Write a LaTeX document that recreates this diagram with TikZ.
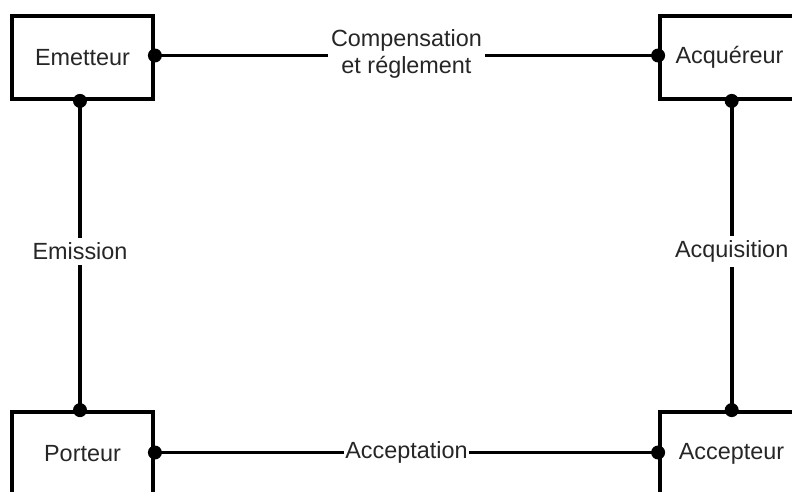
\documentclass[tikz,border=0pt]{standalone}
\usepackage{fontspec}
\setmainfont{Liberation Sans}
\begin{document}
\begin{tikzpicture}[x=1pt,y=-1pt,
  box/.style={draw,line width=3.8pt,minimum width=141pt,minimum height=83pt,inner sep=0pt,font=\fontsize{23.4}{27}\selectfont,text=black!85},
  conn/.style={line width=3.8pt},
  lab/.style={fill=white,inner xsep=2pt,inner ysep=5pt,font=\fontsize{23.4}{27}\selectfont,text=black!85,align=center},
  dotc/.style={fill=black,draw=none,circle,minimum size=14pt,inner sep=0pt}]
\useasboundingbox (0,0) rectangle (792,491);
\node[box] (em) at (82.5,57.5) {Emetteur};
\node[box] (aq) at (730.5,57.5) {\hspace*{-2pt}Acquéreur};
\node[box] (po) at (82.5,453.5) {Porteur};
\node[box] (ac) at (730.5,453.5) {\hspace*{2pt}Accepteur};
\coordinate (emR) at ([yshift=2pt]em.east);
\coordinate (emB) at ([xshift=-2.5pt]em.south);
\coordinate (aqL) at ([yshift=2pt]aq.west);
\coordinate (aqB) at ([xshift=1.2pt]aq.south);
\coordinate (poR) at ([yshift=1pt]po.east);
\coordinate (poT) at ([xshift=-2.5pt]po.north);
\coordinate (acL) at ([yshift=1pt]ac.west);
\coordinate (acT) at ([xshift=1.2pt]ac.north);
\draw[conn] (emR) -- node[lab,inner xsep=3pt,inner ysep=2pt,yshift=2pt] (l1) {Compensation\\et réglement} (aqL);
\draw[conn] (emB) -- node[lab,yshift=4pt] (l2) {Emission} (poT);
\draw[conn] (aqB) -- node[lab,yshift=4pt] (l3) {Acquisition} (acT);
\draw[conn] (poR) -- node[lab,inner xsep=1pt,inner ysep=1pt] (l4) {Acceptation} (acL);
\foreach \c in {emR,emB,aqL,aqB,poR,poT,acL,acT} \node[dotc] at (\c) {};
\end{tikzpicture}
\end{document}
